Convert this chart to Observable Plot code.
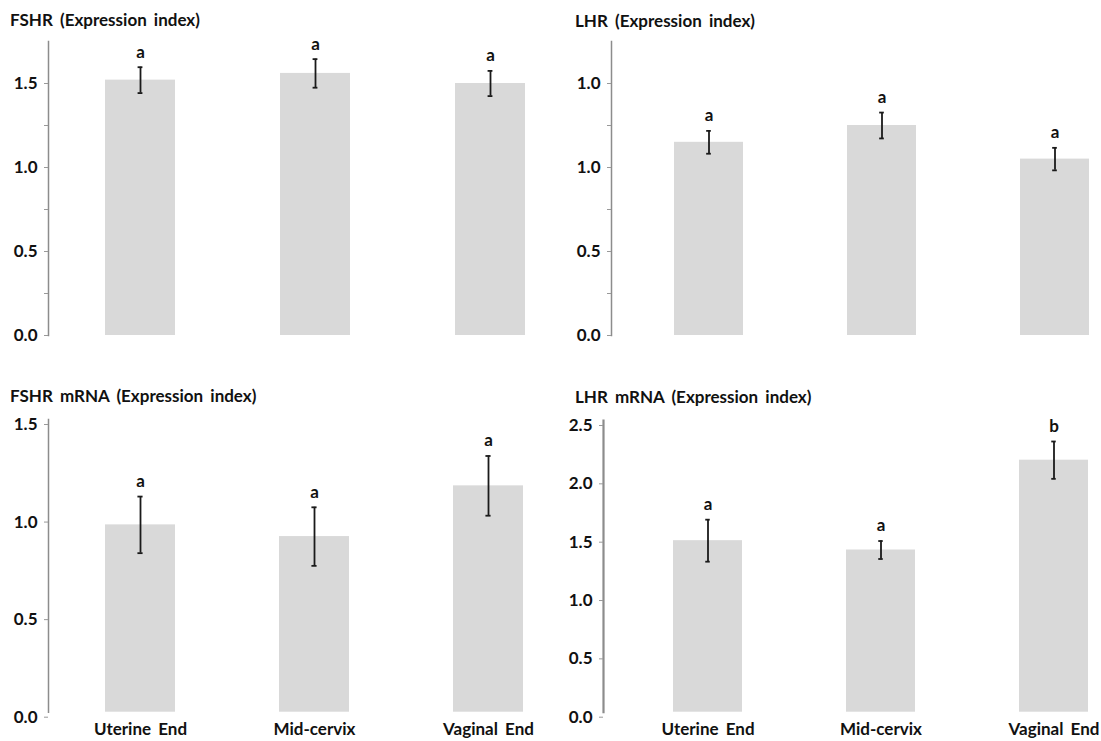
<!DOCTYPE html>
<html>
<head>
<meta charset="utf-8">
<script src="https://cdn.jsdelivr.net/npm/d3@7"></script>
<script src="https://cdn.jsdelivr.net/npm/@observablehq/plot@0.6"></script>
<style>
  html, body { margin: 0; padding: 0; background: #fff; }
  #root { position: relative; width: 1101px; height: 741px; overflow: hidden; font-family: Lato, "Open Sans", sans-serif; }
  .title { position: absolute; font-weight: bold; font-size: 17px; line-height: 20px; color: #111; white-space: nowrap; word-spacing: 3px; }
  .panel { position: absolute; }
  .panel svg text { word-spacing: 3px; }
</style>
</head>
<body>
<div id="root"></div>
<script>
const categories = ["Uterine End", "Mid-cervix", "Vaginal End"];

const fshrMean = [1.52, 1.56, 1.50];
const fshrErr = [0.077, 0.085, 0.075];
const fshrLetters = ["a", "a", "a"];

const lhrMean = [1.15, 1.25, 1.05];
const lhrErr = [0.068, 0.077, 0.067];
const lhrLetters = ["a", "a", "a"];

const fshrMrnaMean = [0.96, 0.90, 1.16];
const fshrMrnaErr = [0.145, 0.15, 0.153];
const fshrMrnaLetters = ["a", "a", "a"];

const lhrMrnaMean = [1.47, 1.39, 2.16];
const lhrMrnaErr = [0.18, 0.077, 0.16];
const lhrMrnaLetters = ["a", "a", "b"];

const topTicks = [0, 0.5, 1.0, 1.5];
const topMinorTicks = [0.25, 0.75, 1.25];
const fshrTickLabels = ["0.0", "0.5", "1.0", "1.5"];
const lhrTickLabels = ["0.0", "0.5", "1.0", "1.0"];
const fshrMrnaTicks = [0, 0.5, 1.0, 1.5];
const fshrMrnaTickLabels = ["0.0", "0.5", "1.0", "1.5"];
const lhrMrnaTicks = [0, 0.5, 1.0, 1.5, 2.0, 2.5];
const lhrMrnaTickLabels = ["0.0", "0.5", "1.0", "1.5", "2.0", "2.5"];

const titles = ["FSHR (Expression index)", "LHR (Expression index)", "FSHR mRNA (Expression index)", "LHR mRNA (Expression index)"];

const root = document.getElementById("root");
const FONT = "Lato, 'Open Sans', sans-serif";

function panel(cfg) {
  const data = categories.map((c, i) => ({cat: c, mean: cfg.mean[i], lo: cfg.mean[i] - cfg.err[i], hi: cfg.mean[i] + cfg.err[i], letter: cfg.letters[i]}));
  const bw = (cfg.xRange[1] - cfg.xRange[0]) / (3 - 0.6) * 0.4;
  const capInset = (bw - 5) / 2;
  const tickLabelOf = new Map(cfg.ticks.map((t, i) => [t, cfg.tickLabels[i]]));
  const marks = [
    Plot.barY(data, {x: "cat", y: "mean", fill: "#d9d9d9"}),
    Plot.ruleX(data, {x: "cat", y1: "lo", y2: "hi", stroke: "#1a1a1a", strokeWidth: 1.8}),
    Plot.tickY(data, {x: "cat", y: "lo", stroke: "#1a1a1a", strokeWidth: 1.8, insetLeft: capInset, insetRight: capInset}),
    Plot.tickY(data, {x: "cat", y: "hi", stroke: "#1a1a1a", strokeWidth: 1.8, insetLeft: capInset, insetRight: capInset}),
    Plot.text(data, {x: "cat", y: "hi", text: "letter", dy: -15, fontSize: 17, fontWeight: "bold", fill: "#111"}),
    Plot.frame({anchor: "left", stroke: "#8c8c8c", strokeWidth: cfg.axisWidth}),
    Plot.axisY({ticks: cfg.ticks, tickFormat: d => tickLabelOf.get(d), tickSize: 4, tickPadding: 7, stroke: "#999", fontSize: 17, fontWeight: "bold", fill: "#111", dy: cfg.labelDy, label: null})
  ];
  if (cfg.minorTicks) marks.push(Plot.axisY({ticks: cfg.minorTicks, tickFormat: () => "", tickSize: 4, stroke: "#999", label: null}));
  if (cfg.xAxis) marks.push(Plot.axisX({tickSize: 0, tickPadding: 11, fontSize: 17, fontWeight: "bold", fill: "#111", label: null}));
  else marks.push(Plot.axisX({ticks: [], label: null}));
  const chart = Plot.plot({
    width: cfg.width,
    height: cfg.height,
    marginLeft: cfg.marginLeft,
    marginRight: 0,
    marginTop: cfg.marginTop,
    marginBottom: cfg.marginBottom,
    style: {fontFamily: FONT, fontSize: "16px", color: "#111", background: "transparent", overflow: "visible"},
    x: {type: "band", domain: categories, range: cfg.xRange, paddingInner: 0.6, paddingOuter: 0},
    y: {domain: cfg.yDomain},
    marks
  });
  const div = document.createElement("div");
  div.className = "panel";
  div.style.left = cfg.left + "px";
  div.style.top = cfg.top + "px";
  div.appendChild(chart);
  root.appendChild(div);

  const t = document.createElement("div");
  t.className = "title";
  t.textContent = cfg.title;
  t.style.left = cfg.titleLeft + "px";
  t.style.top = cfg.titleTop + "px";
  root.appendChild(t);
}

panel({title: titles[0], titleLeft: 10, titleTop: 10, mean: fshrMean, err: fshrErr, letters: fshrLetters,
  yDomain: [0, 1.75], ticks: topTicks, tickLabels: fshrTickLabels, minorTicks: topMinorTicks,
  left: 0, top: 30, width: 550, height: 320, marginLeft: 48, marginTop: 11, marginBottom: 15,
  xRange: [104, 525], xAxis: false, labelDy: 0, axisWidth: 1.5});

panel({title: titles[1], titleLeft: 575, titleTop: 11, mean: lhrMean, err: lhrErr, letters: lhrLetters,
  yDomain: [0, 1.75], ticks: topTicks, tickLabels: lhrTickLabels, minorTicks: topMinorTicks,
  left: 550, top: 30, width: 551, height: 320, marginLeft: 61, marginTop: 11, marginBottom: 15,
  xRange: [124, 540], xAxis: false, labelDy: 0, axisWidth: 1.5});

panel({title: titles[2], titleLeft: 10, titleTop: 386, mean: fshrMrnaMean, err: fshrMrnaErr, letters: fshrMrnaLetters,
  yDomain: [0, 1.5], ticks: fshrMrnaTicks, tickLabels: fshrMrnaTickLabels, minorTicks: null,
  left: 0, top: 405, width: 550, height: 336, marginLeft: 48, marginTop: 14, marginBottom: 29.3,
  xRange: [104, 523], xAxis: true, labelDy: 5, axisWidth: 1.5});

panel({title: titles[3], titleLeft: 575, titleTop: 387, mean: lhrMrnaMean, err: lhrMrnaErr, letters: lhrMrnaLetters,
  yDomain: [0, 2.5], ticks: lhrMrnaTicks, tickLabels: lhrMrnaTickLabels, minorTicks: null,
  left: 550, top: 405, width: 551, height: 336, marginLeft: 53, marginTop: 15, marginBottom: 29.3,
  xRange: [122, 539], xAxis: true, labelDy: 5, axisWidth: 2.2});
</script>
</body>
</html>
